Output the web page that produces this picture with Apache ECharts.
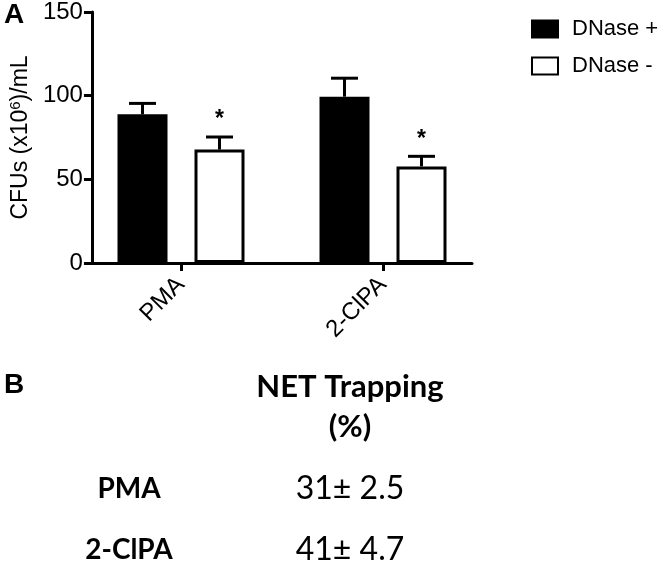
<!DOCTYPE html>
<html>
<head>
<meta charset="utf-8">
<script src="https://cdn.jsdelivr.net/npm/echarts@6/dist/echarts.min.js"></script>
<style>
html,body{margin:0;padding:0;background:#fff;}
#chart{width:667px;height:561px;}
</style>
</head>
<body>
<div id="chart"></div>
<script>
// ---- data ----
const categories = ['PMA', '2-ClPA'];
const seriesNames = ['DNase +', 'DNase -'];
const dnasePlus = [88.5, 99];
const dnasePlusErr = [6.5, 11];
const dnaseMinus = [67.5, 57.5];
const dnaseMinusErr = [7.5, 6];
const dnaseMinusSig = ['*', '*'];
const yTicks = { min: 0, max: 150, interval: 50 };
const tableTitle = ['NET Trapping', '(%)'];
const tableRows = ['PMA', '2-ClPA'];
const tableValues = ['31\u00b1 2.5', '41\u00b1 4.7'];

// ---- styles ----
const FONT = '"Liberation Sans", Arial, sans-serif';
const TFONT = 'Lato, "Open Sans", sans-serif';
const BAR_W = 50, BORDER = 3, BAR_GAP = 27;
const HALF = (BAR_W + BAR_GAP) / 2;
const CAP = 27;

function errRender(sign, sig) {
  return function (params, api) {
    const i = api.value(0), v = api.value(1), e = api.value(2);
    const base = api.coord([i, v]);
    const top = api.coord([i, v + e]);
    const x = base[0] + sign * HALF;
    const children = [
      { type: 'line', shape: { x1: x, y1: base[1], x2: x, y2: top[1] }, style: { stroke: '#000', lineWidth: 3 } },
      { type: 'line', shape: { x1: x - CAP / 2, y1: top[1], x2: x + CAP / 2, y2: top[1] }, style: { stroke: '#000', lineWidth: 3 } }
    ];
    if (sig && sig[params.dataIndex]) {
      children.push({ type: 'text', style: { text: sig[params.dataIndex], x: x, y: top[1] - 17, textAlign: 'center', textVerticalAlign: 'middle', font: 'bold 23px ' + FONT, fill: '#000' } });
    }
    return { type: 'group', children: children };
  };
}

const chart = echarts.init(document.getElementById('chart'), null, { renderer: 'canvas' });
const option = {
  animation: false,
  backgroundColor: '#fff',
  textStyle: { fontFamily: FONT, color: '#000' },
  grid: [
    { left: 80, top: 11, width: 404, height: 252 },
    { left: 90, top: 11, width: 382, height: 252 }
  ],
  xAxis: [
    { type: 'category', gridIndex: 0, data: categories,
      axisLine: { show: false },
      axisTick: { show: true, alignWithLabel: true, length: 8, lineStyle: { color: '#000', width: 3 } },
      axisLabel: { rotate: 45, fontSize: 24, color: '#000', fontFamily: FONT, margin: 18 } },
    { type: 'category', gridIndex: 1, data: categories,
      axisLine: { show: true, lineStyle: { color: '#000', width: 3 } },
      axisTick: { show: false }, axisLabel: { show: false } }
  ],
  yAxis: [
    { type: 'value', gridIndex: 0, min: yTicks.min, max: yTicks.max, interval: yTicks.interval, show: false },
    { type: 'value', gridIndex: 1, min: yTicks.min, max: yTicks.max, interval: yTicks.interval,
      splitLine: { show: false },
      axisLine: { show: true, lineStyle: { color: '#000', width: 3 } },
      axisTick: { show: true, length: 8, lineStyle: { color: '#000', width: 3 } },
      axisLabel: { fontSize: 24, color: '#000', fontFamily: FONT, margin: 9 },
      name: '{a|CFUs (x10}{s|6}{a|)/mL}', nameLocation: 'middle', nameRotate: 90, nameGap: 58,
      nameTextStyle: { rich: {
        a: { fontSize: 23, fontFamily: FONT, color: '#000' },
        s: { fontSize: 15, fontFamily: FONT, color: '#000', verticalAlign: 'top', padding: [0, 0, 10, 0] }
      } } }
  ],
  legend: {
    left: 531, top: 18, padding: 0, orient: 'vertical', itemWidth: 26, itemHeight: 17, itemGap: 15,
    icon: 'rect',
    textStyle: { fontSize: 22, color: '#000', fontFamily: FONT, padding: [0, 0, 0, 9] },
    data: seriesNames
  },
  series: [
    { name: seriesNames[0], type: 'bar', xAxisIndex: 0, yAxisIndex: 0, data: dnasePlus,
      barWidth: BAR_W, barGap: (BAR_GAP / BAR_W * 100) + '%',
      itemStyle: { color: '#000', borderColor: '#000', borderWidth: BORDER } },
    { name: seriesNames[1], type: 'bar', xAxisIndex: 0, yAxisIndex: 0, data: dnaseMinus,
      barWidth: BAR_W, barGap: (BAR_GAP / BAR_W * 100) + '%',
      itemStyle: { color: '#fff', borderColor: '#000', borderWidth: BORDER } },
    { type: 'custom', xAxisIndex: 0, yAxisIndex: 0, z: 5,
      data: dnasePlus.map((v, i) => [i, v, dnasePlusErr[i]]),
      encode: { x: 0, y: 1 }, renderItem: errRender(-1, null) },
    { type: 'custom', xAxisIndex: 0, yAxisIndex: 0, z: 5,
      data: dnaseMinus.map((v, i) => [i, v, dnaseMinusErr[i]]),
      encode: { x: 0, y: 1 }, renderItem: errRender(1, dnaseMinusSig) }
  ],
  graphic: [
    { type: 'text', left: 4, top: 1, style: { text: 'A', font: 'bold 28px ' + FONT, fill: '#000' } },
    { type: 'text', left: 4, top: 371, style: { text: 'B', font: 'bold 28px ' + FONT, fill: '#000' } },
    { type: 'text', x: 350, y: 387, style: { text: tableTitle[0], textAlign: 'center', textVerticalAlign: 'middle', font: 'bold 31px ' + TFONT, fill: '#000' } },
    { type: 'text', x: 350, y: 427, style: { text: tableTitle[1], textAlign: 'center', textVerticalAlign: 'middle', font: 'bold 31px ' + TFONT, fill: '#000' } },
    { type: 'text', x: 129, y: 489, style: { text: tableRows[0], textAlign: 'center', textVerticalAlign: 'middle', font: 'bold 28px ' + TFONT, fill: '#000' } },
    { type: 'text', x: 129, y: 550, style: { text: tableRows[1], textAlign: 'center', textVerticalAlign: 'middle', font: 'bold 28px ' + TFONT, fill: '#000' } },
    { type: 'text', x: 350, y: 489, style: { text: tableValues[0], textAlign: 'center', textVerticalAlign: 'middle', font: '32px ' + TFONT, fill: '#000' } },
    { type: 'text', x: 350, y: 550, style: { text: tableValues[1], textAlign: 'center', textVerticalAlign: 'middle', font: '32px ' + TFONT, fill: '#000' } }
  ]
};
chart.setOption(option);
</script>
</body>
</html>
